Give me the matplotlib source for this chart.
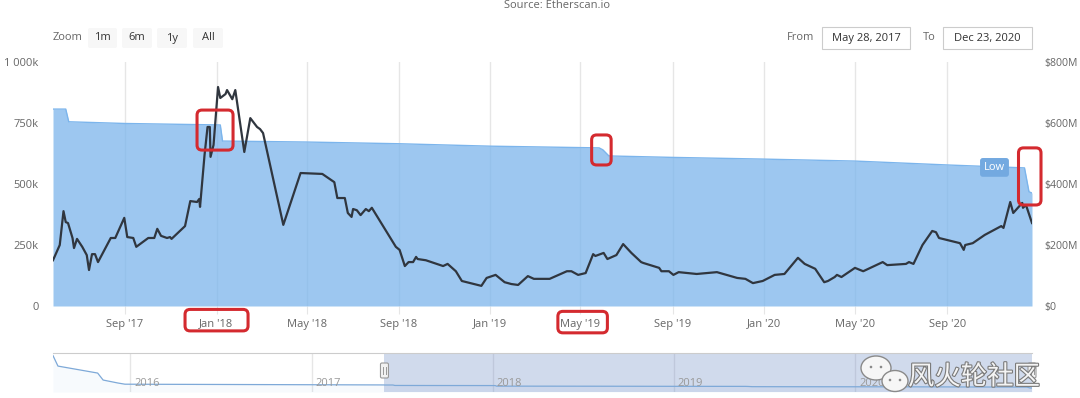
import matplotlib
matplotlib.use("Agg")
import matplotlib.pyplot as plt
import matplotlib.dates as mdates
import matplotlib.transforms as mtransforms
import matplotlib.patheffects as pe
from matplotlib.patches import FancyBboxPatch, Ellipse
import pandas as pd

plt.rcParams['font.family'] = ['Open Sans', 'DejaVu Sans']

# ---------------- data ----------------
area_dates = ["2017-05-28", "2017-06-14", "2017-06-18", "2017-09-01", "2018-01-06", "2018-01-09",
              "2018-05-01", "2018-09-01", "2019-01-01", "2019-05-26", "2019-05-31", "2019-06-08",
              "2019-09-01", "2020-01-01", "2020-05-01", "2020-09-01", "2020-12-13", "2020-12-19",
              "2020-12-23"]
area_k = [807, 807, 755, 748, 742, 676, 672, 665, 655, 648, 640, 615, 609, 602, 594, 578, 566, 468, 463]

line_dates = [
    "2017-05-28", "2017-06-06", "2017-06-11", "2017-06-14", "2017-06-17", "2017-06-23", "2017-06-25",
    "2017-06-29", "2017-07-06", "2017-07-12", "2017-07-15", "2017-07-19", "2017-07-23", "2017-07-27",
    "2017-08-13", "2017-08-19", "2017-08-31", "2017-09-04", "2017-09-12", "2017-09-16", "2017-10-02",
    "2017-10-10", "2017-10-14", "2017-10-19", "2017-10-27", "2017-10-31", "2017-11-02", "2017-11-20",
    "2017-11-27", "2017-12-06", "2017-12-09", "2017-12-10", "2017-12-16", "2017-12-20", "2017-12-23",
    "2017-12-24", "2017-12-28", "2018-01-03", "2018-01-06", "2018-01-13", "2018-01-15", "2018-01-22",
    "2018-01-26", "2018-02-07", "2018-02-15", "2018-02-24", "2018-02-28", "2018-03-04", "2018-03-31",
    "2018-04-23", "2018-05-22", "2018-06-07", "2018-06-11", "2018-06-21", "2018-06-25", "2018-06-30",
    "2018-07-02", "2018-07-07", "2018-07-12", "2018-07-19", "2018-07-23", "2018-07-27", "2018-08-28",
    "2018-09-02", "2018-09-09", "2018-09-14", "2018-09-20", "2018-09-24", "2018-09-26", "2018-10-07",
    "2018-10-30", "2018-11-05", "2018-11-16", "2018-11-24", "2018-12-20", "2018-12-27", "2019-01-08",
    "2019-01-20", "2019-01-29", "2019-02-07", "2019-02-20", "2019-02-28", "2019-03-21", "2019-04-13",
    "2019-04-19", "2019-04-28", "2019-05-08", "2019-05-18", "2019-05-21", "2019-06-01", "2019-06-06",
    "2019-06-18", "2019-06-27", "2019-07-08", "2019-07-21", "2019-07-24", "2019-08-14", "2019-08-17",
    "2019-08-27", "2019-09-02", "2019-09-09", "2019-10-03", "2019-10-17", "2019-10-30", "2019-11-26",
    "2019-12-07", "2019-12-17", "2019-12-30", "2020-01-15", "2020-01-28", "2020-02-15", "2020-02-24",
    "2020-03-09", "2020-03-21", "2020-03-26", "2020-04-04", "2020-04-07", "2020-04-13", "2020-05-01",
    "2020-05-12", "2020-06-07", "2020-06-13", "2020-07-08", "2020-07-12", "2020-07-18", "2020-07-30",
    "2020-08-12", "2020-08-17", "2020-08-21", "2020-09-18", "2020-09-23", "2020-09-25", "2020-10-05",
    "2020-10-21", "2020-11-12", "2020-11-15", "2020-11-24", "2020-11-28", "2020-12-10", "2020-12-11",
    "2020-12-15", "2020-12-23"]
line_musd = [
    150, 200, 311, 275, 272, 223, 190, 220, 194, 167, 118, 170, 170, 144, 223, 223, 289, 226, 223, 194,
    223, 223, 253, 230, 223, 226, 220, 262, 344, 341, 351, 325, 495, 587, 587, 489, 528, 718, 682, 695,
    708, 678, 708, 505, 616, 587, 580, 567, 266, 436, 433, 406, 354, 354, 305, 292, 318, 314, 298, 318,
    311, 322, 194, 184, 131, 144, 144, 161, 154, 150, 131, 138, 114, 82, 66, 92, 102, 78, 72, 69,
    98, 89, 89, 114, 114, 102, 108, 170, 164, 174, 154, 167, 203, 174, 144, 141, 125, 114, 114, 102,
    111, 105, 108, 111, 92, 89, 75, 82, 102, 105, 158, 138, 122, 78, 82, 95, 102, 95, 125, 114,
    144, 134, 138, 144, 138, 200, 246, 242, 223, 206, 184, 200, 206, 233, 262, 256, 341, 305, 338, 322,
    331, 272]

nav_hist_dates = ["2015-07-30", "2015-08-09", "2015-10-28", "2015-11-08", "2015-12-08", "2015-12-22",
                  "2017-05-27"]
nav_hist_k = [4200, 2990, 2185, 1380, 1035, 900, 815]

x_ticks = ["2017-09-01", "2018-01-01", "2018-05-01", "2018-09-01", "2019-01-01", "2019-05-01",
           "2019-09-01", "2020-01-01", "2020-05-01", "2020-09-01"]
x_tick_labels = ["Sep '17", "Jan '18", "May '18", "Sep '18", "Jan '19", "May '19",
                 "Sep '19", "Jan '20", "May '20", "Sep '20"]
left_ticks = [0, 250, 500, 750, 1000]
left_labels = ["0", "250k", "500k", "750k", "1 000k"]
right_ticks = [0, 200, 400, 600, 800]
right_labels = ["$0", "$200M", "$400M", "$600M", "$800M"]
nav_years = ["2016", "2017", "2018", "2019", "2020"]

range_from, range_to = "2017-05-28", "2020-12-23"
range_from_label, range_to_label = "May 28, 2017", "Dec 23, 2020"
nav_from = "2015-07-30"

# ---------------- figure ----------------
W, H = 1080, 398
fig = plt.figure(figsize=(W / 100, H / 100), dpi=100)
fig.patch.set_facecolor("white")


def fx(x):
    return x / W


def fy(y):
    return 1 - y / H


GRAY = "#666666"
ax = fig.add_axes([fx(53), fy(306), 979 / W, 244 / H])
ax2 = ax.twinx()

ad = pd.to_datetime(area_dates)
ld = pd.to_datetime(line_dates)

ax.fill_between(ad, area_k, 0, color="#7cb5ec", alpha=0.75, linewidth=0, zorder=2)
ax.plot(ad, area_k, color="#7cb5ec", lw=1.0, zorder=3)
ax2.plot(ld, line_musd, color="#30363f", lw=1.6, solid_joinstyle="round", zorder=4)

ax.set_xlim(pd.Timestamp(range_from), pd.Timestamp(range_to))
ax.set_ylim(0, 1000)
ax2.set_ylim(0, 800)

ax.set_xticks(pd.to_datetime(x_ticks))
ax.set_xticklabels(x_tick_labels)
ax.set_yticks(left_ticks)
ax.set_yticklabels(left_labels)
ax2.set_yticks(right_ticks)
ax2.set_yticklabels(right_labels)

ax.set_axisbelow(True)
ax.grid(axis="x", color="#e6e6e6", lw=1.0, zorder=0)
ax.grid(axis="y", visible=False)
ax.tick_params(axis="x", length=6, color="#e6e6e6", labelcolor=GRAY, labelsize=8, pad=3)
ax.tick_params(axis="y", length=0, labelcolor=GRAY, labelsize=8, pad=10.5)
ax2.tick_params(axis="y", length=0, labelcolor=GRAY, labelsize=7.6, pad=9)
for a in (ax, ax2):
    for s in a.spines.values():
        s.set_visible(False)

# "Low" flag
ax.text(pd.Timestamp("2020-11-03"), 568, "Low", color="white", fontsize=8, ha="center", va="center",
        zorder=6, bbox=dict(boxstyle="round,pad=0.35,rounding_size=0.25", fc="#73a9e0", ec="none"))

# ---------------- navigator ----------------
axn = fig.add_axes([fx(53), fy(392), 979 / W, 39 / H])
nd = pd.to_datetime(nav_hist_dates + area_dates)
nv = nav_hist_k + area_k
axn.fill_between(nd, nv, 0, color="#7cb5ec", alpha=0.06, lw=0)
axn.plot(nd, nv, color="#7ea9d8", lw=0.9)
axn.set_xlim(pd.Timestamp(nav_from), pd.Timestamp(range_to))
axn.set_ylim(0, 4500)
axn.axvspan(pd.Timestamp(range_from), pd.Timestamp(range_to), color=(102 / 255, 133 / 255, 194 / 255),
            alpha=0.3, lw=0)
yr_dates = pd.to_datetime([y + "-01-01" for y in nav_years])
for d, lab in zip(yr_dates, nav_years):
    axn.axvline(d, color="#e6e6e6", lw=1, zorder=0)
    axn.annotate(lab, (d, 0.22), xycoords=("data", "axes fraction"), xytext=(3, 0),
                 textcoords="offset points", color="#999999", fontsize=8, ha="left", va="center")
axn.set_xticks([])
axn.set_yticks([])
for k, s in axn.spines.items():
    s.set_visible(k == "top")
axn.spines["top"].set_color("#cccccc")
axn.patch.set_alpha(0)

ID = mtransforms.IdentityTransform()


def px_patch(x0, y0, x1, y1, **kw):
    p = FancyBboxPatch((x0, H - y1), x1 - x0, y1 - y0, transform=ID, **kw)
    fig.add_artist(p)
    return p


def data_red_box(trans, p0, p1):
    (X0, Y0) = trans.transform(p0)
    (X1, Y1) = trans.transform(p1)
    p = FancyBboxPatch((min(X0, X1), min(Y0, Y1)), abs(X1 - X0), abs(Y1 - Y0),
                       boxstyle="round,pad=0,rounding_size=5", fc="none", ec="#d42a2f", lw=2.2,
                       transform=ID, zorder=10)
    fig.add_artist(p)


def dn(s):
    return mdates.date2num(pd.Timestamp(s))


# navigator handles
for d in (range_from, range_to):
    X, _ = axn.transData.transform((dn(d), 0))
    p = FancyBboxPatch((X - 4, H - 378), 8, 15, boxstyle="round,pad=0,rounding_size=1.5",
                       fc="#f2f2f2", ec="#999999", lw=0.8, transform=ID, zorder=5)
    fig.add_artist(p)
    for dx in (-1.5, 1.5):
        fig.add_artist(plt.Line2D([X + dx, X + dx], [H - 374, H - 367], color="#999999", lw=0.7,
                                  transform=ID, zorder=6))

# red highlight boxes
data_red_box(ax.transData, (dn("2017-12-06"), 803), (dn("2018-01-23"), 639))
data_red_box(ax.transData, (dn("2019-05-16"), 701), (dn("2019-06-11"), 578))
data_red_box(ax.transData, (dn("2020-12-05"), 648), (dn("2021-01-04"), 414))
blend = mtransforms.blended_transform_factory(ax.transData, ax.transAxes)
data_red_box(blend, (dn("2017-11-20"), -0.014), (dn("2018-02-12"), -0.102))
data_red_box(blend, (dn("2019-04-01"), -0.022), (dn("2019-06-06"), -0.110))

# ---------------- top UI ----------------
fig.text(fx(557), fy(5), "Source: Etherscan.io", ha="center", va="center", color=GRAY, fontsize=8)
fig.text(fx(53), fy(38), "Zoom", ha="left", va="center", color=GRAY, fontsize=8)
for (x0, x1), lab in zip([(88, 117), (122, 152), (157, 187), (193, 223)], ["1m", "6m", "1y", "All"]):
    px_patch(x0, 28, x1, 48, boxstyle="round,pad=0,rounding_size=2", fc="#f7f7f7", ec="none")
    fig.text(fx((x0 + x1) / 2), fy(38), lab, ha="center", va="center", color="#333333", fontsize=8)

fig.text(fx(801), fy(38), "From", ha="center", va="center", color=GRAY, fontsize=8)
px_patch(822, 27, 910, 49, boxstyle="square,pad=0", fc="white", ec="#cccccc", lw=0.8)
fig.text(fx(866), fy(38), range_from_label, ha="center", va="center", color="#333333", fontsize=8)
fig.text(fx(929), fy(38), "To", ha="center", va="center", color=GRAY, fontsize=8)
px_patch(943, 27, 1032, 49, boxstyle="square,pad=0", fc="white", ec="#cccccc", lw=0.8)
fig.text(fx(987.5), fy(38), range_to_label, ha="center", va="center", color="#333333", fontsize=8)

# ---------------- watermark ----------------
for (cx, cy, w, h) in [(876, 368, 30, 24), (895, 381, 26, 21)]:
    e = Ellipse((cx, H - cy), w, h, fc="#f6f6f6", ec="#8a8a8a", lw=1.0, transform=ID, zorder=11)
    fig.add_artist(e)
    for dx in (-5, 5):
        fig.add_artist(Ellipse((cx + dx, H - cy + 1), 2.6, 2.6, fc="#8a8a8a", ec="none",
                               transform=ID, zorder=12))
fig.text(fx(908), fy(377), "风火轮社区", ha="left", va="center", fontsize=19,
         family=["Noto Sans CJK SC", "DejaVu Sans"], color="#f4f4f4", zorder=12,
         path_effects=[pe.withStroke(linewidth=1.6, foreground="#7a7a7a")])

fig.savefig("out.png", dpi=100, facecolor="white")
